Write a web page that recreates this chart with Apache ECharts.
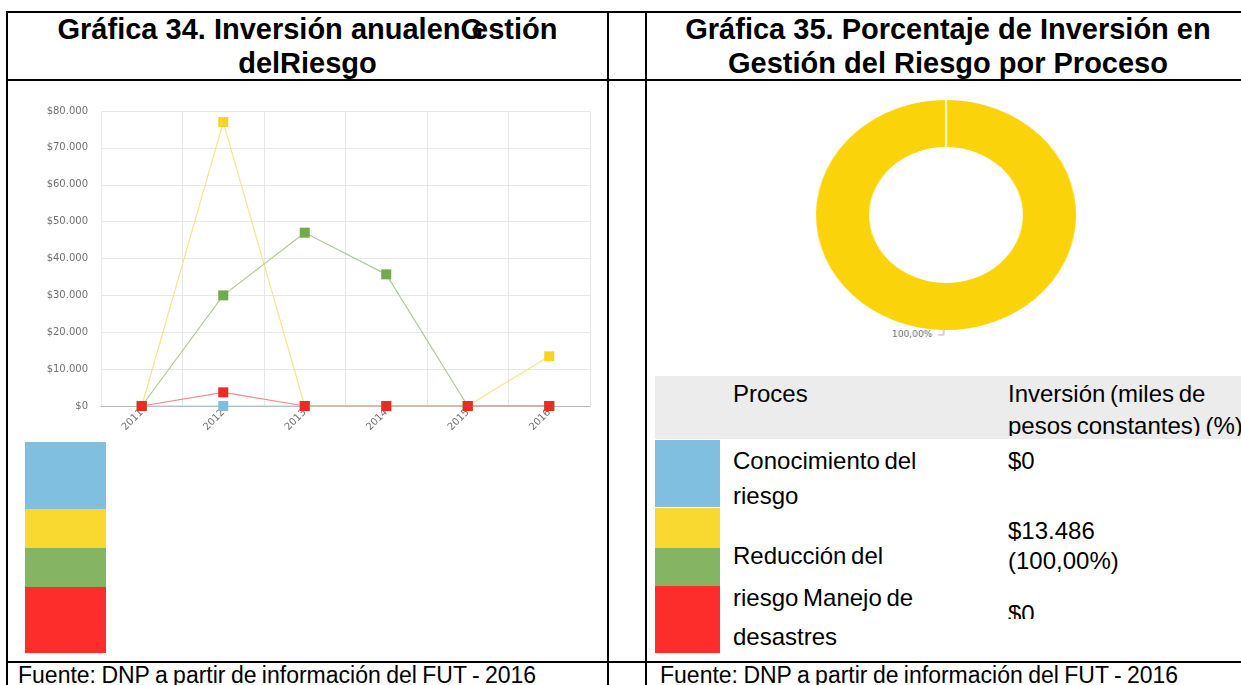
<!DOCTYPE html>
<html><head><meta charset="utf-8">
<script src="https://cdn.jsdelivr.net/npm/echarts@6/dist/echarts.min.js"></script>
<style>
html,body{margin:0;padding:0;}
body{width:1241px;height:685px;overflow:hidden;background:#fff;position:relative;font-family:"Liberation Sans",Arial,sans-serif;color:#000;}
.a{position:absolute;}
.ln{position:absolute;background:#000;}
.tt{position:absolute;font-weight:bold;font-size:29px;line-height:29px;text-align:center;white-space:nowrap;}
.tx{position:absolute;font-size:24px;line-height:24px;white-space:nowrap;word-spacing:-2px;}
.ft{position:absolute;font-size:23px;line-height:23px;white-space:nowrap;word-spacing:-1px;}
.clip{position:absolute;overflow:hidden;}
</style></head>
<body>
<!-- table borders -->
<div class="ln" style="left:6px;top:11px;width:1235px;height:2px"></div>
<div class="ln" style="left:6px;top:79px;width:1235px;height:2px"></div>
<div class="ln" style="left:6px;top:661px;width:1235px;height:2px"></div>
<div class="ln" style="left:6px;top:11px;width:2px;height:674px"></div>
<div class="ln" style="left:607px;top:11px;width:2px;height:674px"></div>
<div class="ln" style="left:645px;top:11px;width:2px;height:674px"></div>

<!-- titles -->
<div class="tt" style="left:8px;width:599px;top:15px">Gráfica 34. Inversión anualen<span style="margin-right:-11px">G</span>estión</div>
<div class="tt" style="left:8px;width:599px;top:49px">delRiesgo</div>
<div class="tt" style="left:647px;width:602px;top:15px">Gráfica 35. Porcentaje de Inversión en</div>
<div class="tt" style="left:647px;width:602px;top:49px">Gestión del Riesgo por Proceso</div>

<!-- charts -->
<div id="lineChart" class="a" style="left:0;top:90px;width:610px;height:360px"></div>
<div id="pieChart" class="a" style="left:826px;top:75px;width:240px;height:280px;transform:scaleX(1.1304);transform-origin:50% 50%"></div>

<!-- left colour blocks -->
<div id="leftBlocks"></div>
<!-- right table -->
<div class="a" style="left:655px;top:376px;width:586px;height:63px;background:#ececec"></div>
<div id="rightBlocks"></div>
<div class="clip" style="left:655px;top:376px;width:586px;height:60px">
  <div class="tx" style="left:78px;top:6px">Proces</div>
  <div class="tx" style="left:353px;top:6px">Inversión (miles de</div>
  <div class="tx" style="left:353px;top:38px">pesos constantes) (%)</div>
</div>
<div class="tx" style="left:733px;top:449px">Conocimiento del</div>
<div class="tx" style="left:733px;top:484px">riesgo</div>
<div class="tx" style="left:733px;top:544px">Reducción del</div>
<div class="tx" style="left:733px;top:586px">riesgo Manejo de</div>
<div class="tx" style="left:733px;top:625px">desastres</div>
<div class="tx" style="left:1008px;top:449px">$0</div>
<div class="tx" style="left:1008px;top:519px">$13.486</div>
<div class="tx" style="left:1008px;top:549px">(100,00%)</div>
<div class="clip" style="left:1000px;top:595px;width:100px;height:24px">
  <div class="tx" style="left:8px;top:7px">$0</div>
</div>

<!-- footers -->
<div class="ft" style="left:18px;top:664px">Fuente: DNP a partir de información del FUT - 2016</div>
<div class="ft" style="left:660px;top:664px">Fuente: DNP a partir de información del FUT - 2016</div>

<script>
// ---- data ----
const years = ['2011', '2012', '2013', '2014', '2015', '2016'];
const conocimiento = [0, 0, 0, 0, 0, 0];
const reduccion = [0, 77000, 0, 0, 0, 13486];
const manejo = [0, 30000, 47000, 35700, 0, 0];
const desastres = [0, 3700, 0, 0, 0, 0];
const yMin = 0, yMax = 80000, yStep = 10000;
const pieNames = ['Reducción del riesgo'];
const pieValues = [13486];
const pieLabels = ['100,00%'];
const legendColors = ['#80bfe0', '#f9d92f', '#85b562', '#fc2d2a'];

// ---- colour blocks (legend swatches) ----
function blocks(id, left, width, edges) {
  const host = document.getElementById(id);
  legendColors.forEach((c, i) => {
    const d = document.createElement('div');
    d.className = 'a';
    d.style.cssText = `left:${left}px;width:${width}px;top:${edges[i][0]}px;height:${edges[i][1]-edges[i][0]}px;background:${c}`;
    host.appendChild(d);
  });
}
blocks('leftBlocks', 25, 81, [[442,509],[509,548],[548,587],[587,653]]);
blocks('rightBlocks', 655, 65, [[440,507],[508,548],[548,586],[586,653]]);

// ---- line chart ----
function money(v) { return '$' + String(v).replace(/\B(?=(\d{3})+(?!\d))/g, '.'); }
function ser(name, data, mark, line) {
  return { type: 'line', name, data, symbol: 'rect', symbolSize: 10, showAllSymbol: true,
    itemStyle: { color: mark }, lineStyle: { color: line, width: 1.2 },
    emphasis: { disabled: true }, silent: true };
}
const lc = echarts.init(document.getElementById('lineChart'), null, { renderer: 'canvas' });
lc.setOption({
  animation: false,
  grid: { left: 101, right: 20, top: 21, bottom: 44, containLabel: false, outerBoundsMode: 'none' },
  xAxis: { type: 'category', data: years, boundaryGap: true,
    axisLine: { lineStyle: { color: '#b8b8b8', width: 1 } }, axisTick: { show: false },
    axisLabel: { rotate: 45, interval: 0, fontSize: 10, color: '#707070', fontFamily: 'DejaVu Sans', margin: 5 },
    splitLine: { show: true, lineStyle: { color: '#e8e8e8' } } },
  yAxis: { type: 'value', min: yMin, max: yMax, interval: yStep,
    axisLine: { show: false }, axisTick: { show: false },
    axisLabel: { fontSize: 10, color: '#707070', fontFamily: 'DejaVu Sans', margin: 13, formatter: money },
    splitLine: { lineStyle: { color: '#e8e8e8' } } },
  series: [
    ser('Conocimiento del riesgo', conocimiento, '#7fbde0', '#a8d3ec'),
    ser('Reducción del riesgo', reduccion, '#f9d322', '#f6e68c'),
    ser('Manejo de desastres', manejo, '#72ab4e', '#afcc9b'),
    ser('Otros', desastres, '#ee2a24', '#f0898a')
  ]
});

// ---- donut ----
const pc = echarts.init(document.getElementById('pieChart'), null, { renderer: 'canvas' });
pc.setOption({
  animation: false,
  series: [{ type: 'pie', radius: [68, 115], center: ['50%', '50%'], startAngle: 89, clockwise: true,
    data: pieNames.map((n, i) => ({ name: n, value: pieValues[i] })),
    itemStyle: { color: '#fbd30a' },
    label: { show: true, formatter: p => pieLabels[p.dataIndex], fontSize: 8, color: '#666', fontFamily: 'DejaVu Sans' },
    labelLine: { show: true, length: 5, length2: 5, lineStyle: { color: '#b0b0b0', width: 1 } },
    emphasis: { disabled: true }, silent: true }],
  graphic: [{ type: 'line', z: 100, shape: { x1: 120, y1: 24, x2: 120, y2: 73 }, style: { stroke: '#fff', lineWidth: 1.5 } }]
});
</script>
</body></html>
